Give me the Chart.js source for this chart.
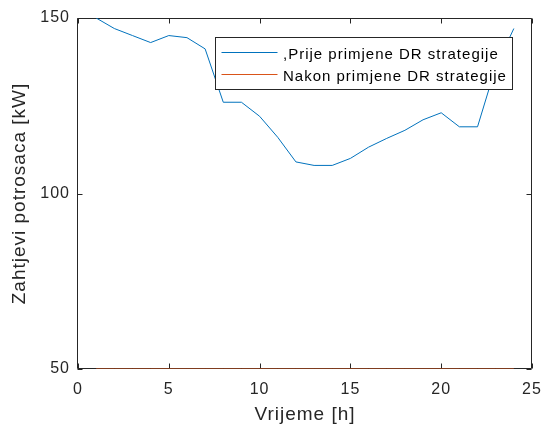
<!DOCTYPE html>
<html>
<head>
<meta charset="utf-8">
<script src="https://cdn.jsdelivr.net/npm/chart.js@4.4.1/dist/chart.umd.min.js"></script>
<style>
  body { margin: 0; background: #fff; }
</style>
</head>
<body>
<canvas id="grafikPotrosnje" width="543" height="427"></canvas>
<script>
// podaci ocitani sa grafika
const sati = [1, 2, 3, 4, 5, 6, 7, 8, 9, 10, 11, 12, 13, 14, 15, 16, 17, 18, 19, 20, 21, 22, 23, 24];
const prijeDR = [150, 147, 145, 143, 145, 144.4, 141.2, 126, 126, 122, 116, 109, 108, 108, 110, 113.2, 115.7, 118, 121, 123, 119, 119, 136, 147];
const nakonDR = [50, 50, 50, 50, 50, 50, 50, 50, 50, 50, 50, 50, 50, 50, 50, 50, 50, 50, 50, 50, 50, 50, 50, 50];
const xTicks = [0, 5, 10, 15, 20, 25];
const yTicks = [50, 100, 150];
const nazivi = [',Prije primjene DR strategije', 'Nakon primjene DR strategije'];

const FONT = '"Liberation Sans", Arial, Helvetica, sans-serif';
const TAMNA = '#262626';

function tacke(xs, ys) {
  return xs.map((v, i) => ({ x: v, y: ys[i] }));
}

function bezPadinga(s) {
  s.paddingLeft = 0;
  s.paddingRight = 0;
  s.paddingTop = 0;
  s.paddingBottom = 0;
}

// okvir oko grafika sa crticama prema unutra (kao u matlabu)
const okvir = {
  id: 'okvir',
  beforeDraw(chart) {
    chart.ctx.letterSpacing = '1px';
  },
  beforeDatasetsDraw(chart) {
    const { ctx, chartArea: a, scales: { x, y } } = chart;
    const L = Math.round(a.left) - 0.5, R = Math.round(a.right) - 0.5;
    const T = Math.round(a.top) + 0.5, B = Math.round(a.bottom) - 0.5;
    ctx.save();
    ctx.strokeStyle = TAMNA;
    ctx.lineWidth = 1;
    ctx.beginPath();
    ctx.rect(L, T, R - L, B - T);
    x.ticks.forEach(t => {
      const px = Math.round(x.getPixelForValue(t.value)) + 0.5;
      ctx.moveTo(px, B); ctx.lineTo(px, B - 5);
      ctx.moveTo(px, T); ctx.lineTo(px, T + 5);
    });
    y.ticks.forEach(t => {
      const py = Math.round(y.getPixelForValue(t.value)) + 0.5;
      ctx.moveTo(L, py); ctx.lineTo(L + 5, py);
      ctx.moveTo(R, py); ctx.lineTo(R - 5, py);
    });
    ctx.stroke();
    ctx.restore();
  }
};

// legenda unutar grafika
const legenda = {
  id: 'legenda',
  afterDraw(chart) {
    const ctx = chart.ctx;
    ctx.save();
    ctx.fillStyle = '#fff';
    ctx.fillRect(215.5, 37.5, 297, 52);
    ctx.strokeStyle = TAMNA;
    ctx.lineWidth = 1;
    ctx.strokeRect(215.5, 37.5, 297, 52);
    ctx.font = '15px ' + FONT;
    ctx.letterSpacing = '1px';
    ctx.textBaseline = 'middle';
    ctx.textAlign = 'left';
    chart.data.datasets.forEach((ds, i) => {
      const ly = 52.5 + i * 22;
      ctx.strokeStyle = ds.borderColor;
      ctx.beginPath();
      ctx.moveTo(221.5, ly); ctx.lineTo(277.5, ly);
      ctx.stroke();
      ctx.fillStyle = '#000';
      ctx.fillText(nazivi[i], 283, ly + 2);
    });
    ctx.restore();
  }
};

new Chart(document.getElementById('grafikPotrosnje'), {
  type: 'line',
  data: {
    datasets: [{
      label: nazivi[0],
      data: tacke(sati, prijeDR),
      borderColor: '#0072BD',
      borderWidth: 1,
      pointRadius: 0,
      tension: 0
    }, {
      label: nazivi[1],
      data: tacke(sati, nakonDR),
      borderColor: '#D95319',
      borderWidth: 1,
      pointRadius: 0,
      tension: 0
    }]
  },
  options: {
    responsive: false,
    animation: false,
    layout: { padding: { left: 0, right: 11, top: 18, bottom: 0 } },
    plugins: { legend: { display: false }, tooltip: { enabled: false } },
    scales: {
      x: {
        type: 'linear',
        min: 0,
        max: 25,
        afterBuildTicks: s => { s.ticks = xTicks.map(v => ({ value: v })); },
        afterFit: s => { s.height = 58; bezPadinga(s); },
        grid: { display: false, drawTicks: false },
        border: { display: false },
        ticks: { color: TAMNA, padding: 11, maxRotation: 0, font: { family: FONT, size: 16 } },
        title: {
          display: true,
          text: 'Vrijeme [h]',
          color: TAMNA,
          padding: { top: 0, bottom: 1 },
          font: { family: FONT, size: 19 }
        }
      },
      y: {
        min: 50,
        max: 150,
        afterBuildTicks: s => { s.ticks = yTicks.map(v => ({ value: v })); },
        afterFit: s => { s.width = 78; bezPadinga(s); },
        grid: { display: false, drawTicks: false },
        border: { display: false },
        ticks: { color: TAMNA, padding: 8, font: { family: FONT, size: 16 } },
        title: {
          display: true,
          text: 'Zahtjevi potrosaca [kW]',
          color: TAMNA,
          padding: { top: 8, bottom: 0 },
          font: { family: FONT, size: 19 }
        }
      }
    }
  },
  plugins: [okvir, legenda]
});
</script>
</body>
</html>
